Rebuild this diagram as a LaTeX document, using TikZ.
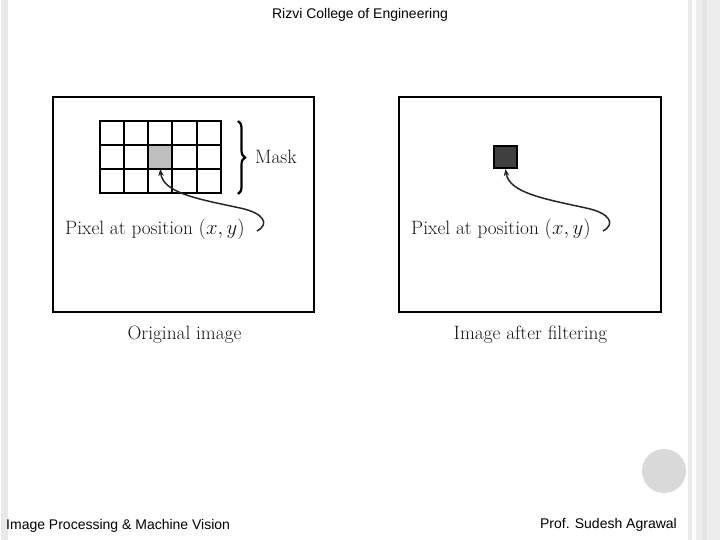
\documentclass[tikz,border=0pt]{standalone}
\usepackage{fontspec}
\newfontfamily\arialfont{Liberation Sans}
\usetikzlibrary{decorations.pathreplacing,arrows.meta}
\tikzset{
  frame/.style={draw=black,line width=2.4pt},
  cell/.style={draw=black,line width=2pt,minimum width=24.3pt,minimum height=24pt,inner sep=0pt,outer sep=0pt},
  lmtext/.style={font=\fontsize{19.3}{22}\selectfont,text=black!90,inner sep=0pt},
  slidetext/.style={font=\arialfont\fontsize{14}{16}\selectfont,text=black,inner sep=0pt},
  pointer/.style={draw=black!85,line width=1.5pt,-{Stealth[length=7pt,width=5.5pt]}},
}
\begin{document}
\begin{tikzpicture}[x=1pt,y=-1pt]
\useasboundingbox (0,0) rectangle (720,540);
\fill[white] (0,0) rectangle (720,540);
% side stripes
\fill[black!9] (1,0) rectangle (8,540);
\fill[black!8] (688,0) rectangle (692,540);
\fill[black!7] (696,0) rectangle (720,540);
\fill[black!10] (702,0) rectangle (707,540);
% circle
\fill[black!15] (664,471) circle (22);
% header / footer
\node[slidetext] (title) at (360,15) {Rizvi College of Engineering};
\node[slidetext,anchor=west] (footl) at (6,526) {Image Processing \& Machine Vision};
\node[slidetext,anchor=east] (footr) at (677,525) {Prof. Sudesh Agrawal};
% frames
\draw[frame] (53,97) rectangle (314,312);
\draw[frame] (399,97) rectangle (661,312);
% grid
\foreach \r in {0,1,2}{
  \foreach \c in {0,1,2,3,4}{
    \node[cell,anchor=north west] (g\r\c) at (99.5+24.3*\c,121+24*\r) {};
  }
}
\node[cell,anchor=north west,fill=black!25] (pix) at (99.5+24.3*2,121+24) {};
% brace
\draw[decorate,decoration={brace,amplitude=7pt},line width=2.2pt] (238,121) -- (238,194);
\node[lmtext,anchor=west] (mask) at (255,157) {Mask};
% labels
\node[lmtext,anchor=west] (lab1) at (65,229) {Pixel at position $(x,y)$};
\node[lmtext,anchor=west] (lab2) at (411,229) {Pixel at position $(x,y)$};
\coordinate (t1) at (257,231);
\coordinate (t2) at (603,231);
\draw[pointer] (t1) .. controls (270,224) and (264,213) .. (240,208) .. controls (198,199) and (163,193) .. (pix.south);
% filtered pixel
\node[draw=black,line width=2pt,fill=black!75,minimum width=23pt,minimum height=22pt,inner sep=0pt] (fpix) at (505.5,157) {};
\draw[pointer] (t2) .. controls (616,224) and (610,213) .. (586,208) .. controls (545,199) and (509,193) .. (fpix.south);
% captions
\node[lmtext] (cap1) at (184.5,335) {Original image};
\node[lmtext] (cap2) at (530.5,335) {Image after filtering};
\end{tikzpicture}
\end{document}
